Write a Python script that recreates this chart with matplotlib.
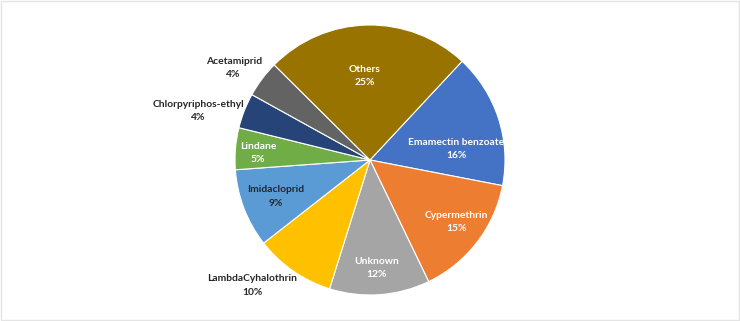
import matplotlib
matplotlib.use("Agg")
import numpy as np
import matplotlib.pyplot as plt
from matplotlib.patches import Rectangle

# -----------------------------
# Data (shares, clockwise from Emamectin benzoate)
# -----------------------------
names = ["Emamectin benzoate", "Cypermethrin", "Unknown", "LambdaCyhalothrin",
         "Imidacloprid", "Lindane", "Chlorpyriphos-ethyl", "Acetamiprid", "Others"]
shares = [16.1, 14.8, 12.0, 9.6, 9.4, 5.0, 4.2, 4.4, 24.5]
pct_labels = ["16%", "15%", "12%", "10%", "9%", "5%", "4%", "4%", "25%"]

colors = ["#4472C4", "#ED7D31", "#A5A5A5", "#FFC000", "#5B9BD5",
          "#70AD47", "#264478", "#636363", "#997300"]
text_colors = ["white", "white", "white", "#262626", "#262626",
               "white", "#262626", "#262626", "white"]
# label centres, in units of the pie radius
label_xy = [(0.64, 0.08), (0.64, -0.46), (0.05, -0.80), (-0.87, -0.93),
            (-0.70, -0.27), (-0.83, 0.05), (-1.27, 0.36), (-1.01, 0.68),
            (-0.04, 0.62)]

# -----------------------------
# Plot
# -----------------------------
W, H, R = 740, 321, 135.0
fig = plt.figure(figsize=(W / 100, H / 100), dpi=100)
ax = fig.add_axes([0, 0, 1, 1])

ax.pie(shares, colors=colors, startangle=47, counterclock=False,
       radius=1.0, center=(0, 0), frame=True,
       wedgeprops=dict(edgecolor="white", linewidth=0.8))
ax.set_xlim(-370 / R, (W - 370) / R)
ax.set_ylim(-(H - 160) / R, 160 / R)
ax.set_aspect("auto")
ax.axis("off")

for name, pct, (x, y), tc in zip(names, pct_labels, label_xy, text_colors):
    ax.text(x, y, f"{name}\n{pct}", ha="center", va="center", color=tc,
            fontsize=7.4, fontweight="bold", family=["Lato", "DejaVu Sans"],
            linespacing=1.6)

# faint frame around the picture
fig.patches.append(Rectangle((0.001, 0.002), 0.997, 0.995, transform=fig.transFigure,
                             fill=False, edgecolor="#e4e4e4", linewidth=1))

fig.savefig("out.png", dpi=100)
